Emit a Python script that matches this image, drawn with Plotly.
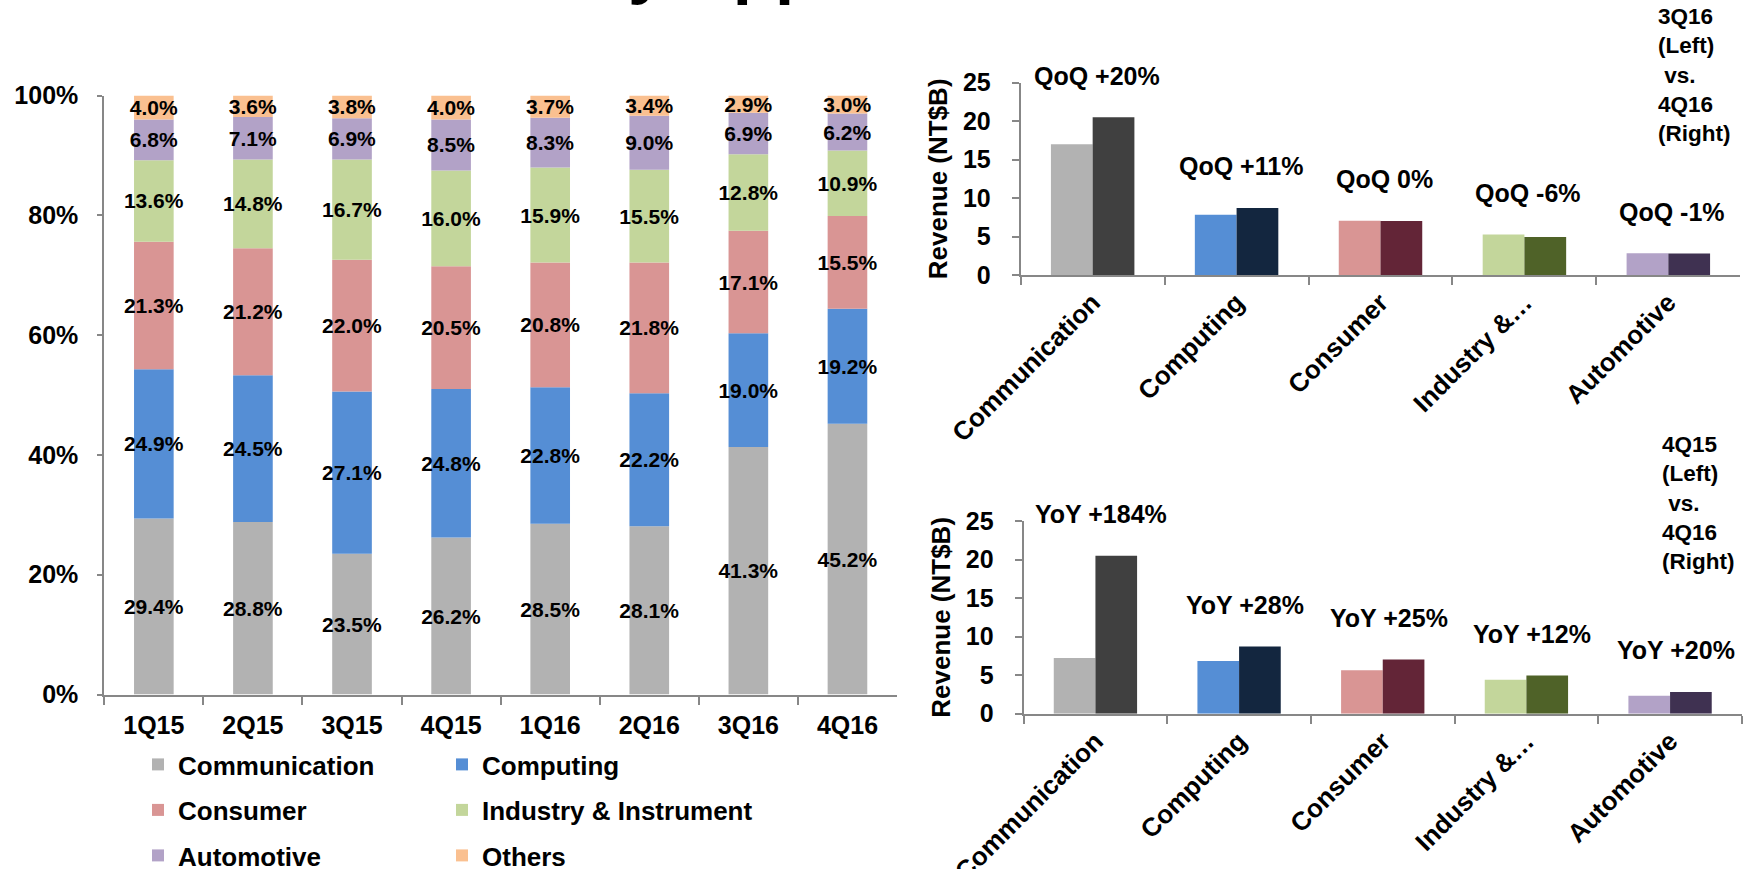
import plotly.graph_objects as go
import numpy as np

# ---------------- data ----------------
quarters = ["1Q15", "2Q15", "3Q15", "4Q15", "1Q16", "2Q16", "3Q16", "4Q16"]
share_communication = [29.4, 28.8, 23.5, 26.2, 28.5, 28.1, 41.3, 45.2]
share_computing = [24.9, 24.5, 27.1, 24.8, 22.8, 22.2, 19.0, 19.2]
share_consumer = [21.3, 21.2, 22.0, 20.5, 20.8, 21.8, 17.1, 15.5]
share_industry = [13.6, 14.8, 16.7, 16.0, 15.9, 15.5, 12.8, 10.9]
share_automotive = [6.8, 7.1, 6.9, 8.5, 8.3, 9.0, 6.9, 6.2]
share_others = [4.0, 3.6, 3.8, 4.0, 3.7, 3.4, 2.9, 3.0]
series_names = ["Communication", "Computing", "Consumer",
                "Industry & Instrument", "Automotive", "Others"]
pct_ticks = [0, 20, 40, 60, 80, 100]

segments = ["Communication", "Computing", "Consumer", "Industry &…", "Automotive"]
rev_3q16 = [17.0, 7.82, 7.04, 5.27, 2.84]
rev_4q16 = [20.5, 8.71, 7.03, 4.94, 2.81]
rev_4q15 = [7.22, 6.83, 5.65, 4.41, 2.34]
qoq_labels = ["QoQ +20%", "QoQ +11%", "QoQ 0%", "QoQ -6%", "QoQ -1%"]
yoy_labels = ["YoY +184%", "YoY +28%", "YoY +25%", "YoY +12%", "YoY +20%"]

# ---------------- style ----------------
W, H = 1746, 869
FONT = "Liberation Sans, Arial, Helvetica, sans-serif"
AX = "#878787"
share_colors = ["#b2b2b2", "#558ed5", "#d99594", "#c3d69b", "#b2a2c7", "#fac090"]
light_colors = ["#b2b2b2", "#558ed5", "#d99594", "#c3d69b", "#b2a2c7"]
dark_colors = ["#404040", "#13263f", "#632537", "#4f6228", "#3f3151"]
legend_of = ["legend", "legend2", "legend", "legend2", "legend", "legend2"]
PX_PER_UNIT = 7.71  # right charts: pixels per NT$B


def px_x(p):
    return p / W


def px_y(p):
    return 1 - p / H


fig = go.Figure()

# ---------- left: stacked 100% bars (stacked via base in overlay mode) ----------
shares = [share_communication, share_computing, share_consumer,
          share_industry, share_automotive, share_others]
base = np.zeros(len(quarters))
for name, vals, col, lg in zip(series_names, shares, share_colors, legend_of):
    vals = np.array(vals)
    fig.add_trace(go.Bar(
        x=quarters, y=vals, base=base.copy(), width=0.4,
        name=name, legend=lg, legendgroup=name,
        marker=dict(color=col, line=dict(width=0)),
        text=[f"{v:.1f}%" for v in vals],
        textposition="inside", insidetextanchor="middle",
        constraintext="none", textangle=0,
        textfont=dict(family=FONT, size=21, color="black", weight="bold"),
        xaxis="x", yaxis="y",
    ))
    base = base + vals

# ---------- right top: 3Q16 vs 4Q16 ----------
fig.add_trace(go.Bar(x=segments, y=rev_3q16, offset=-0.29, width=0.29,
                     marker=dict(color=light_colors, line=dict(width=0)),
                     showlegend=False, xaxis="x2", yaxis="y2"))
fig.add_trace(go.Bar(x=segments, y=rev_4q16, offset=0.0, width=0.29,
                     marker=dict(color=dark_colors, line=dict(width=0)),
                     showlegend=False, xaxis="x2", yaxis="y2"))

# ---------- right bottom: 4Q15 vs 4Q16 ----------
fig.add_trace(go.Bar(x=segments, y=rev_4q15, offset=-0.29, width=0.29,
                     marker=dict(color=light_colors, line=dict(width=0)),
                     showlegend=False, xaxis="x3", yaxis="y3"))
fig.add_trace(go.Bar(x=segments, y=rev_4q16, offset=0.0, width=0.29,
                     marker=dict(color=dark_colors, line=dict(width=0)),
                     showlegend=False, xaxis="x3", yaxis="y3"))

bold = dict(family=FONT, color="black", weight="bold")


def axis_common(**kw):
    d = dict(showline=True, linecolor=AX, linewidth=2, ticks="outside",
             tickcolor=AX, tickwidth=2, showgrid=False, zeroline=False,
             automargin=False, fixedrange=True)
    d.update(kw)
    return d


annotations = []
for seg, a, b, t in zip(segments, rev_3q16, rev_4q16, qoq_labels):
    annotations.append(dict(x=seg, y=max(a, b), xref="x2", yref="y2",
                            text=t, showarrow=False, xshift=4,
                            yshift=5.4 * PX_PER_UNIT,
                            yanchor="middle", xanchor="center",
                            font=dict(size=25, **bold)))
for seg, a, b, t in zip(segments, rev_4q15, rev_4q16, yoy_labels):
    annotations.append(dict(x=seg, y=max(a, b), xref="x3", yref="y3",
                            text=t, showarrow=False, xshift=6,
                            yshift=5.4 * PX_PER_UNIT,
                            yanchor="middle", xanchor="center",
                            font=dict(size=25, **bold)))

annotations.append(dict(x=px_x(1656), y=px_y(75), xref="paper", yref="paper",
                        text="3Q16<br>(Left)<br>\u00a0vs.<br>4Q16<br>(Right)",
                        align="left", xanchor="left", yanchor="middle",
                        showarrow=False, font=dict(size=22.5, **bold)))
annotations.append(dict(x=px_x(1660), y=px_y(503), xref="paper", yref="paper",
                        text="4Q15<br>(Left)<br>\u00a0vs.<br>4Q16<br>(Right)",
                        align="left", xanchor="left", yanchor="middle",
                        showarrow=False, font=dict(size=22.5, **bold)))
# page title, cut off at the top edge of the picture
annotations.append(dict(x=px_x(277), y=px_y(8), xref="paper", yref="paper",
                        text="Revenue by Application", xanchor="left",
                        yanchor="bottom", showarrow=False,
                        font=dict(size=69, **bold)))

fig.update_layout(
    width=W, height=H,
    margin=dict(l=0, r=0, t=0, b=0, autoexpand=False),
    paper_bgcolor="white", plot_bgcolor="white",
    barmode="overlay",
    font=dict(family=FONT, color="black"),
    xaxis=axis_common(domain=[px_x(104.3), px_x(897)], anchor="y",
                      type="category", tickson="boundaries", ticklen=8,
                      ticklabelstandoff=7,
                      tickfont=dict(size=25, **bold)),
    yaxis=axis_common(domain=[px_y(694.5), px_y(95.5)], anchor="x",
                      range=[0, 100], tickmode="array", tickvals=pct_ticks,
                      ticktext=[f"{v}%" for v in pct_ticks],
                      ticklen=5, tickfont=dict(size=25, **bold),
                      ticklabelstandoff=14),
    xaxis2=axis_common(domain=[px_x(1020.7), px_x(1740.3)], anchor="y2",
                       type="category", tickson="boundaries", ticklen=8,
                       tickangle=-45, tickfont=dict(size=26, **bold)),
    yaxis2=axis_common(domain=[px_y(275), px_y(82.7)], anchor="x2",
                       range=[0, 25], dtick=5,
                       ticklen=7, tickfont=dict(size=25, **bold),
                       ticklabelstandoff=16,
                       title=dict(text="Revenue (NT$B)", standoff=8,
                                  font=dict(size=26, **bold))),
    xaxis3=axis_common(domain=[px_x(1023.6), px_x(1741.9)], anchor="y3",
                       type="category", tickson="boundaries", ticklen=8,
                       tickangle=-45, tickfont=dict(size=26, **bold)),
    yaxis3=axis_common(domain=[px_y(713.7), px_y(521)], anchor="x3",
                       range=[0, 25], dtick=5,
                       ticklen=7, tickfont=dict(size=25, **bold),
                       ticklabelstandoff=16,
                       title=dict(text="Revenue (NT$B)", standoff=8,
                                  font=dict(size=26, **bold))),
    legend=dict(x=px_x(138), y=px_y(741), xanchor="left", yanchor="top",
                orientation="v", tracegroupgap=8.7, bgcolor="rgba(0,0,0,0)",
                font=dict(size=26, **bold)),
    legend2=dict(x=px_x(442), y=px_y(741), xanchor="left", yanchor="top",
                 orientation="v", tracegroupgap=8.7, bgcolor="rgba(0,0,0,0)",
                 font=dict(size=26, **bold)),
    annotations=annotations,
    showlegend=True,
)

fig.write_html("out.html")
